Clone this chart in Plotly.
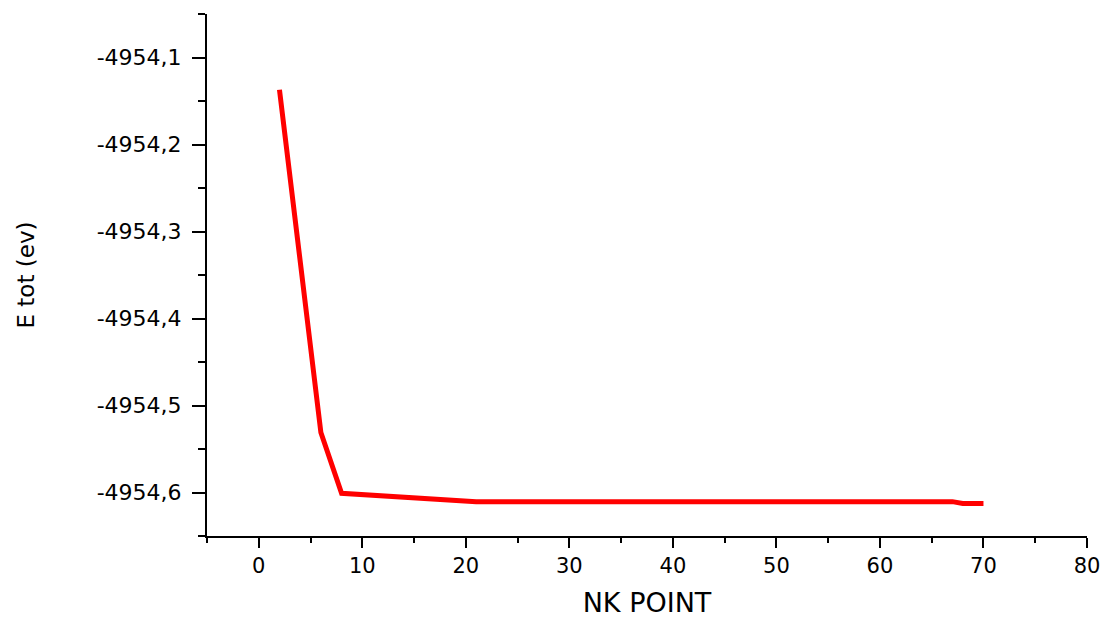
import plotly.graph_objects as go

nk_point = [2, 4, 6, 8, 12, 16, 21, 30, 40, 50, 60, 67, 68, 70]
e_tot = [-4954.137, -4954.330, -4954.531, -4954.601, -4954.604, -4954.608,
         -4954.6105, -4954.6105, -4954.6105, -4954.6105, -4954.6105,
         -4954.6105, -4954.6125, -4954.6125]

y_tick_vals = [-4954.1, -4954.2, -4954.3, -4954.4, -4954.5, -4954.6]
y_tick_text = ["-4954,1", "-4954,2", "-4954,3", "-4954,4", "-4954,5", "-4954,6"]

x_title = "NK POINT"
y_title = "E tot (ev)"

fig = go.Figure()
fig.add_trace(go.Scatter(
    x=nk_point, y=e_tot, mode="lines",
    line=dict(color="#ff0000", width=5),
    showlegend=False,
))

font_family = "DejaVu Sans, Liberation Sans, Arial, sans-serif"

fig.update_layout(
    width=1116, height=619,
    margin=dict(l=207, r=29, t=14, b=83),
    paper_bgcolor="white", plot_bgcolor="white",
    font=dict(family=font_family, color="black", size=22),
    xaxis=dict(
        range=[-5, 80], tick0=0, dtick=10,
        automargin=False,
        showgrid=False, zeroline=False,
        showline=True, linecolor="black", linewidth=2,
        ticks="outside", ticklen=10, tickwidth=2, tickcolor="black",
        tickfont=dict(size=21, family=font_family),
        minor=dict(ticks="outside", ticklen=5, tickwidth=2, tickcolor="black", dtick=5, tick0=0),
        title=dict(text=x_title, font=dict(size=27, family=font_family), standoff=16),
    ),
    yaxis=dict(
        range=[-4954.65, -4954.05],
        automargin=False,
        tickmode="array", tickvals=y_tick_vals, ticktext=y_tick_text,
        showgrid=False, zeroline=False,
        showline=True, linecolor="black", linewidth=2,
        ticks="outside", ticklen=13, tickwidth=2, tickcolor="black",
        ticklabelstandoff=6,
        tickfont=dict(size=22, family=font_family),
        minor=dict(ticks="outside", ticklen=7, tickwidth=2, tickcolor="black", dtick=0.05, tick0=-4954.1),
        title=dict(text=y_title, font=dict(size=23, family=font_family), standoff=56),
    ),
)

fig.write_html("out.html")
